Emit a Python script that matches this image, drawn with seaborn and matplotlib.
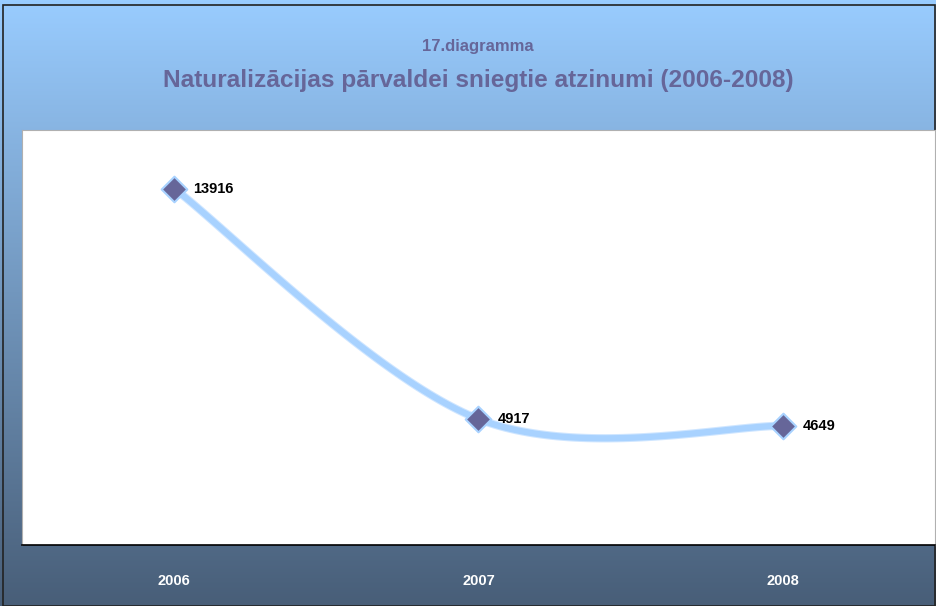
import numpy as np
import pandas as pd
import matplotlib
matplotlib.use("Agg")
import matplotlib.pyplot as plt
import matplotlib.patheffects as pe
import seaborn as sns

years = ["2006", "2007", "2008"]
values = [13916, 4917, 4649]

sns.set_style("white")
plt.rcParams['font.family'] = ['Liberation Sans', 'DejaVu Sans']

df = pd.DataFrame({"year": years, "value": values})

fig = plt.figure(figsize=(9.37, 6.06), dpi=100)

# gradient background
bg = fig.add_axes([0, 0, 1, 1], zorder=0)
top = np.array([153, 204, 255]) / 255
bot = np.array([72, 94, 120]) / 255
t = np.linspace(0, 1, 300)[:, None]
grad = top * (1 - t) + bot * t
grad = np.repeat(grad[:, None, :], 2, axis=1)
bg.imshow(grad, aspect="auto", extent=[0, 1, 0, 1])
bg.axis("off")
bg.add_patch(plt.Rectangle((0.003, 0.0), 0.995, 0.992, fill=False,
                           edgecolor="#222222", lw=1.2, transform=bg.transAxes))

ax = fig.add_axes([22 / 937, 61 / 606, 913 / 937, 415 / 606], zorder=1)
ax.set_facecolor("white")

# smoothed line (Catmull-Rom through the points, like Excel smoothing)
x = np.arange(len(values), dtype=float)
y = np.array(values, dtype=float)
px = np.concatenate([[x[0]], x, [x[-1]]])
py = np.concatenate([[y[0]], y, [y[-1]]])
sx, sy = [], []
for i in range(1, len(px) - 2):
    s = np.linspace(0, 1, 60)
    for arr, out in ((px, sx), (py, sy)):
        p0, p1, p2, p3 = arr[i - 1], arr[i], arr[i + 1], arr[i + 2]
        out.extend(0.5 * ((2 * p1) + (-p0 + p2) * s
                          + (2 * p0 - 5 * p1 + 4 * p2 - p3) * s ** 2
                          + (-p0 + 3 * p1 - 3 * p2 + p3) * s ** 3))

sns.lineplot(x=sx, y=sy, ax=ax, color="#a8d2ff", lw=4.5, sort=False,
             path_effects=[pe.Stroke(linewidth=6, foreground="#cfe6ff"), pe.Normal()])
sns.scatterplot(data=df, x=np.arange(len(years)), y="value", ax=ax, marker="D",
                s=170, color="#666699", edgecolor="#a8d2ff", linewidth=1.5, zorder=5)

for i, v in enumerate(values):
    ax.annotate(str(v), (i, v), xytext=(14, 0), textcoords="offset points",
                ha="left", va="center", fontsize=10.5, fontweight="bold", color="black")

ax.set_xlim(-0.5, 2.5)
ax.set_ylim(0, 16200)
ax.set_yticks([])
ax.set_xticks([-0.5, 0.5, 1.5, 2.5])
ax.set_xticklabels([])
ax.set_xticks([0, 1, 2], minor=True)
ax.set_xticklabels(years, minor=True)
ax.tick_params(axis="x", which="major", direction="out", length=6, color="black", width=1)
ax.tick_params(axis="x", which="minor", length=0, pad=21, labelsize=10.5,
               labelcolor="white")
for lab in ax.get_xticklabels(minor=True):
    lab.set_fontweight("bold")
ax.set_xlabel("")
ax.set_ylabel("")
for side in ["left", "right", "top"]:
    ax.spines[side].set_color("#b0b0b0")
    ax.spines[side].set_linewidth(0.8)
ax.spines["bottom"].set_color("black")
ax.spines["bottom"].set_linewidth(1.2)

cx = 478 / 937
fig.text(cx, 1 - 46 / 606, "17.diagramma", ha="center", va="center",
         fontsize=12, fontweight="bold", color="#666699")
fig.text(cx, 1 - 81 / 606, "Naturalizācijas pārvaldei sniegtie atzinumi (2006-2008)",
         ha="center", va="center", fontsize=17.6, fontweight="bold", color="#666699")

fig.savefig("out.png", dpi=100)
